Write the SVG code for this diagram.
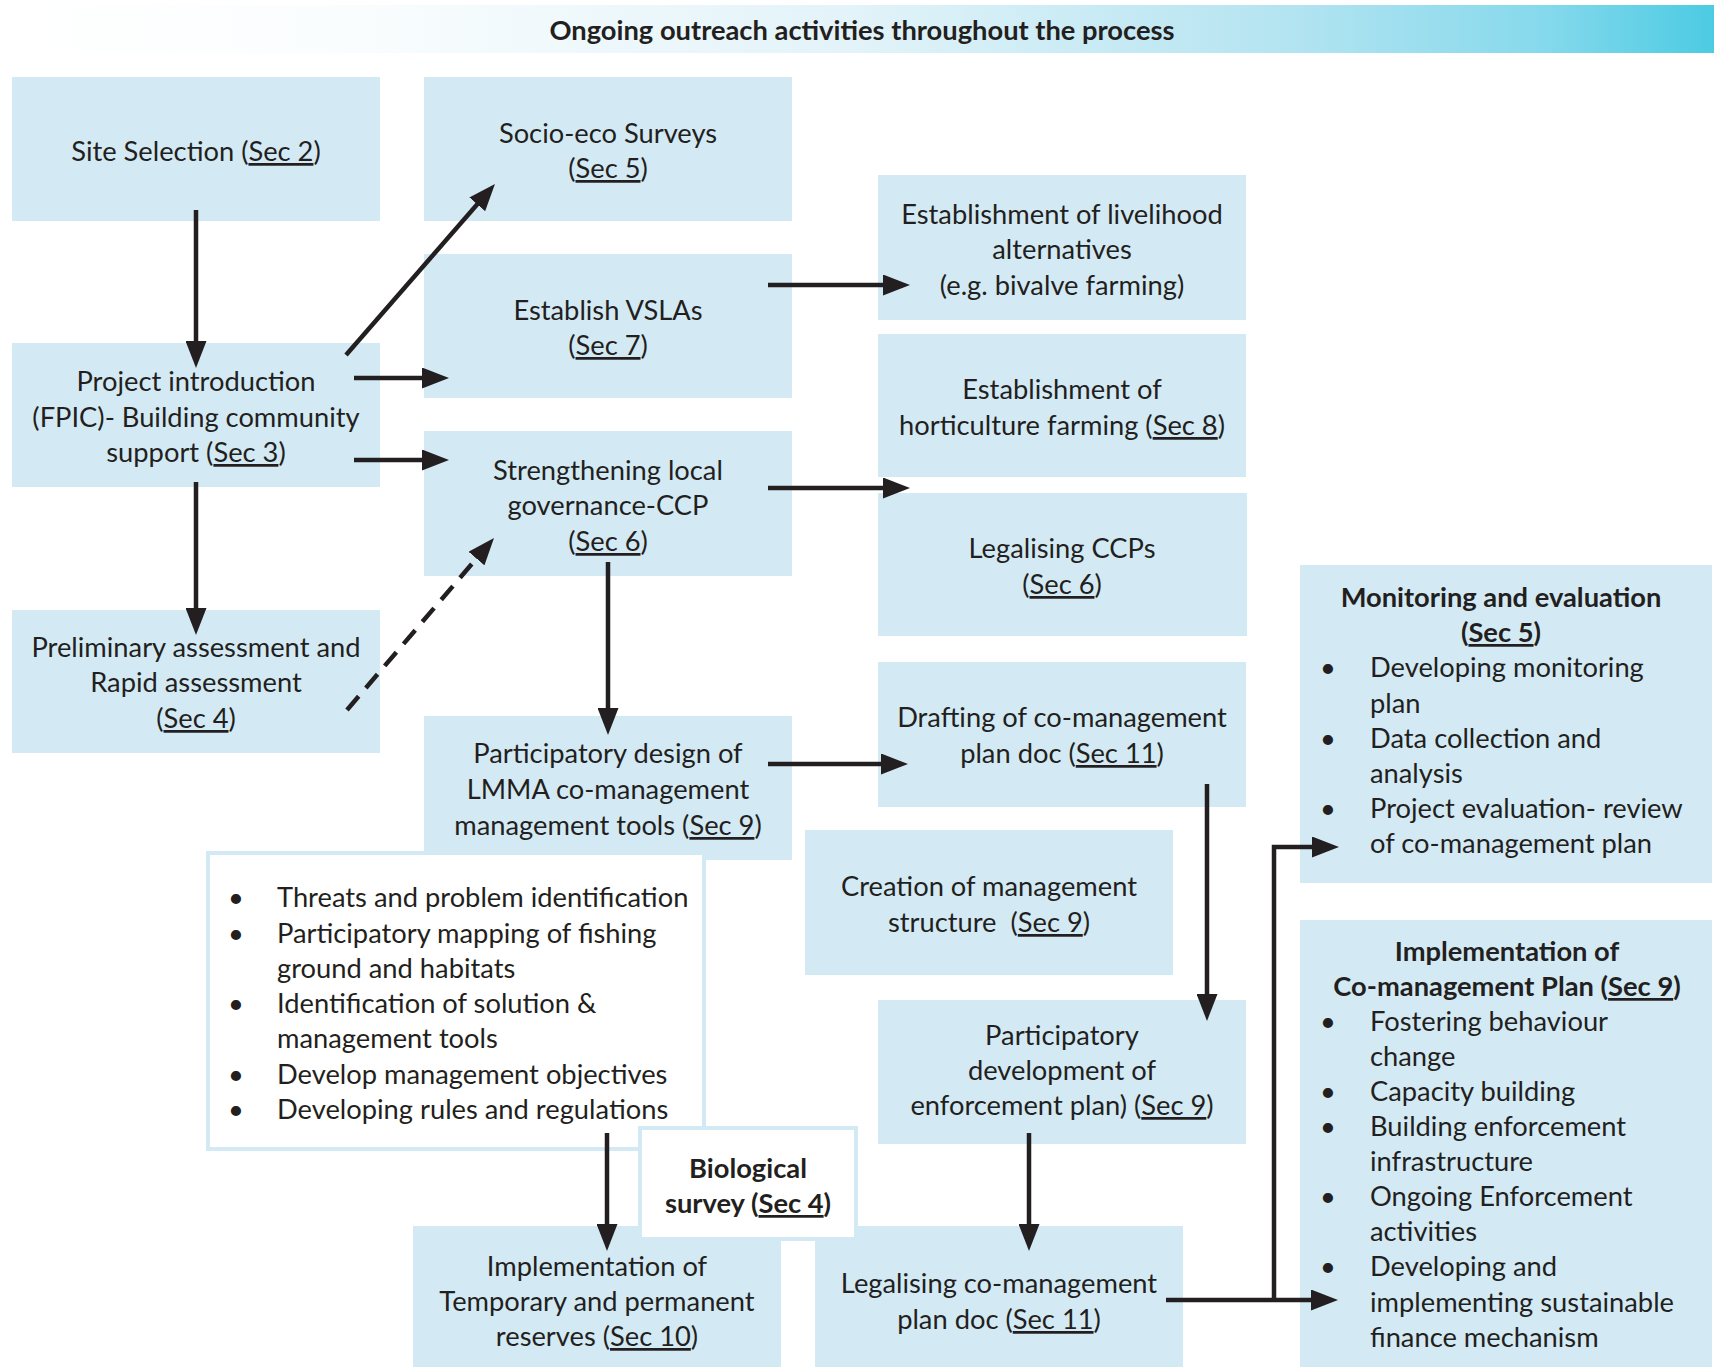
<svg xmlns="http://www.w3.org/2000/svg" width="1717" height="1367" viewBox="0 0 1717 1367">
<defs>
<linearGradient id="hg" x1="0" y1="0" x2="1" y2="0">
<stop offset="0" stop-color="#FFFFFF"/>
<stop offset="0.2" stop-color="#FAFDFE"/>
<stop offset="0.5" stop-color="#E2F3F9"/>
<stop offset="0.75" stop-color="#B4E4F1"/>
<stop offset="0.9" stop-color="#86D9EC"/>
<stop offset="1" stop-color="#4CCBE3"/>
</linearGradient>
<marker id="ah" markerUnits="userSpaceOnUse" markerWidth="27" markerHeight="21" refX="19" refY="10.5" orient="auto" viewBox="0 0 27 21">
<path d="M0,0 L27,10.5 L0,21 z" fill="#231F20"/>
</marker>
</defs>
<style>
.box{fill:#D3EAF5}
.wbox{fill:#FFFFFF;stroke:#D3EAF5;stroke-width:4}
text{font-family:Lato,"Open Sans","Liberation Sans",sans-serif;font-size:27.3px;fill:#231F20}
.c{text-anchor:middle}
.bd{font-weight:bold}
.bl{text-anchor:middle}
.u{text-decoration:underline}
.hd{font-weight:bold;font-size:27.3px;text-anchor:middle}
.cn{fill:none;stroke:#231F20;stroke-width:4.5;marker-end:url(#ah)}
.dash{stroke-dasharray:18 11}
</style>
<rect x="0" y="5" width="1714" height="48" fill="url(#hg)"/>
<text class="hd" x="862" y="40">Ongoing outreach activities throughout the process</text>

<g id="site-selection">
<rect class="box" x="12" y="77" width="368" height="144"/>
<text class="c" x="196" y="161">Site Selection (<tspan class="u">Sec 2</tspan>)</text>
</g>
<g id="socio-eco">
<rect class="box" x="424" y="77" width="368" height="144"/>
<text class="c" x="608" y="143">Socio-eco Surveys</text>
<text class="c" x="608" y="178">(<tspan class="u">Sec 5</tspan>)</text>
</g>
<g id="vslas">
<rect class="box" x="424" y="254" width="368" height="144"/>
<text class="c" x="608" y="320">Establish VSLAs</text>
<text class="c" x="608" y="355">(<tspan class="u">Sec 7</tspan>)</text>
</g>
<g id="project-intro">
<rect class="box" x="12" y="343" width="368" height="144"/>
<text class="c" x="196" y="391">Project introduction</text>
<text class="c" x="196" y="427">(FPIC)- Building community</text>
<text class="c" x="196" y="462">support (<tspan class="u">Sec 3</tspan>)</text>
</g>
<g id="strengthening">
<rect class="box" x="424" y="431" width="368" height="145"/>
<text class="c" x="608" y="480">Strengthening local</text>
<text class="c" x="608" y="515">governance-CCP</text>
<text class="c" x="608" y="551">(<tspan class="u">Sec 6</tspan>)</text>
</g>
<g id="preliminary">
<rect class="box" x="12" y="610" width="368" height="143"/>
<text class="c" x="196" y="657">Preliminary assessment and</text>
<text class="c" x="196" y="692">Rapid assessment</text>
<text class="c" x="196" y="728">(<tspan class="u">Sec 4</tspan>)</text>
</g>
<g id="livelihood">
<rect class="box" x="878" y="175" width="368" height="145"/>
<text class="c" x="1062" y="224">Establishment of livelihood</text>
<text class="c" x="1062" y="259">alternatives</text>
<text class="c" x="1062" y="295">(e.g. bivalve farming)</text>
</g>
<g id="horticulture">
<rect class="box" x="878" y="334" width="368" height="143"/>
<text class="c" x="1062" y="399">Establishment of</text>
<text class="c" x="1062" y="435">horticulture farming (<tspan class="u">Sec 8</tspan>)</text>
</g>
<g id="legalising-ccps">
<rect class="box" x="878" y="493" width="369" height="143"/>
<text class="c" x="1062" y="558">Legalising CCPs</text>
<text class="c" x="1062" y="594">(<tspan class="u">Sec 6</tspan>)</text>
</g>
<g id="drafting">
<rect class="box" x="878" y="662" width="368" height="145"/>
<text class="c" x="1062" y="727">Drafting of co-management</text>
<text class="c" x="1062" y="763">plan doc (<tspan class="u">Sec 11</tspan>)</text>
</g>
<g id="lmma">
<rect class="box" x="424" y="716" width="368" height="144"/>
<text class="c" x="608" y="763">Participatory design of</text>
<text class="c" x="608" y="799">LMMA co-management</text>
<text class="c" x="608" y="835">management tools (<tspan class="u">Sec 9</tspan>)</text>
</g>
<g id="lmma-steps">
<rect class="wbox" x="208" y="853" width="496" height="296"/>
<text class="bl" x="236" y="907">•</text>
<text x="277" y="907">Threats and problem identification</text>
<text class="bl" x="236" y="943">•</text>
<text x="277" y="943">Participatory mapping of fishing</text>
<text x="277" y="978">ground and habitats</text>
<text class="bl" x="236" y="1013">•</text>
<text x="277" y="1013">Identification of solution &amp;</text>
<text x="277" y="1048">management tools</text>
<text class="bl" x="236" y="1084">•</text>
<text x="277" y="1084">Develop management objectives</text>
<text class="bl" x="236" y="1119">•</text>
<text x="277" y="1119">Developing rules and regulations</text>
</g>
<g id="creation">
<rect class="box" x="805" y="830" width="368" height="145"/>
<text class="c" x="989" y="896">Creation of management</text>
<text class="c" x="989" y="932" xml:space="preserve">structure  (<tspan class="u">Sec 9</tspan>)</text>
</g>
<g id="enforcement">
<rect class="box" x="878" y="1000" width="368" height="144"/>
<text class="c" x="1062" y="1045">Participatory</text>
<text class="c" x="1062" y="1080">development of</text>
<text class="c" x="1062" y="1115">enforcement plan) (<tspan class="u">Sec 9</tspan>)</text>
</g>
<g id="reserves">
<rect class="box" x="413" y="1226" width="368" height="141"/>
<text class="c" x="597" y="1276">Implementation of</text>
<text class="c" x="597" y="1311">Temporary and permanent</text>
<text class="c" x="597" y="1346">reserves (<tspan class="u">Sec 10</tspan>)</text>
</g>
<g id="legalising-plan">
<rect class="box" x="815" y="1226" width="368" height="141"/>
<text class="c" x="999" y="1293">Legalising co-management</text>
<text class="c" x="999" y="1329">plan doc (<tspan class="u">Sec 11</tspan>)</text>
</g>
<g id="biological">
<rect class="wbox" x="640" y="1128" width="216" height="111"/>
<text class="c bd" x="748" y="1178">Biological</text>
<text class="c bd" x="748" y="1213">survey (<tspan class="u">Sec 4</tspan>)</text>
</g>
<g id="monitoring">
<rect class="box" x="1300" y="565" width="412" height="318"/>
<text class="c bd" x="1501" y="607">Monitoring and evaluation</text>
<text class="c bd" x="1501" y="642">(<tspan class="u">Sec 5</tspan>)</text>
<text class="bl" x="1328" y="677">•</text>
<text x="1370" y="677">Developing monitoring</text>
<text x="1370" y="713">plan</text>
<text class="bl" x="1328" y="748">•</text>
<text x="1370" y="748">Data collection and</text>
<text x="1370" y="783">analysis</text>
<text class="bl" x="1328" y="818">•</text>
<text x="1370" y="818">Project evaluation- review</text>
<text x="1370" y="853">of co-management plan</text>
</g>
<g id="implementation">
<rect class="box" x="1300" y="920" width="412" height="447"/>
<text class="c bd" x="1507" y="961">Implementation of</text>
<text class="c bd" x="1507" y="996">Co-management Plan (<tspan class="u">Sec 9</tspan>)</text>
<text class="bl" x="1328" y="1031">•</text>
<text x="1370" y="1031">Fostering behaviour</text>
<text x="1370" y="1066">change</text>
<text class="bl" x="1328" y="1101">•</text>
<text x="1370" y="1101">Capacity building</text>
<text class="bl" x="1328" y="1136">•</text>
<text x="1370" y="1136">Building enforcement</text>
<text x="1370" y="1171">infrastructure</text>
<text class="bl" x="1328" y="1206">•</text>
<text x="1370" y="1206">Ongoing Enforcement</text>
<text x="1370" y="1241">activities</text>
<text class="bl" x="1328" y="1276">•</text>
<text x="1370" y="1276">Developing and</text>
<text x="1370" y="1312">implementing sustainable</text>
<text x="1370" y="1347">finance mechanism</text>
</g>

<g id="connectors">
<path class="cn" d="M196,210 V360"/>
<path class="cn" d="M346,355 L489.7,190"/>
<path class="cn" d="M354,378 H441"/>
<path class="cn" d="M354,460 H441"/>
<path class="cn" d="M196,482 V627"/>
<path class="cn dash" d="M347,710 L488.8,544.1"/>
<path class="cn" d="M608,562 V727"/>
<path class="cn" d="M768,285 H902"/>
<path class="cn" d="M768,488 H902"/>
<path class="cn" d="M768,764 H900"/>
<path class="cn" d="M1207,784 V1013"/>
<path class="cn" d="M1029,1133 V1243"/>
<path class="cn" d="M607,1133 V1243"/>
<path class="cn" d="M1166,1300 H1330"/>
<path class="cn" d="M1274,1300 V847 H1331"/>
</g>
</svg>
